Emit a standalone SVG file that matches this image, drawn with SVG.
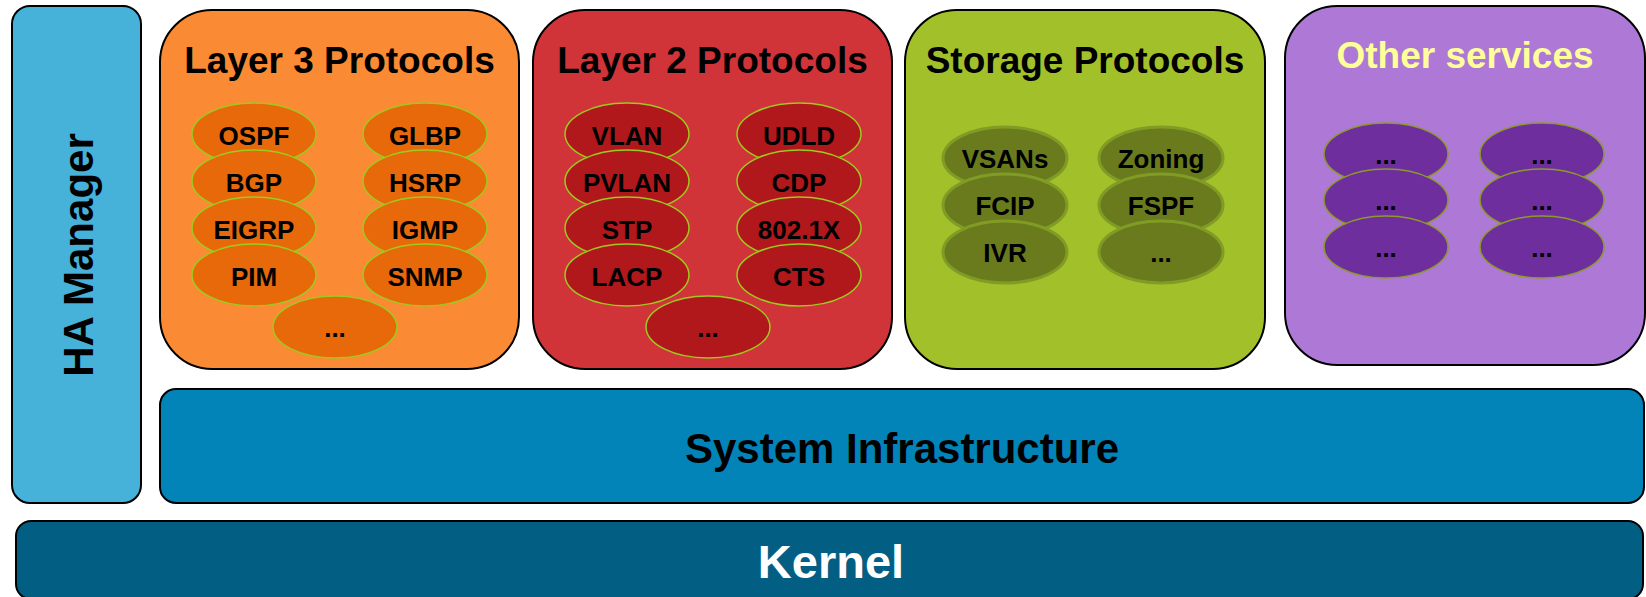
<svg xmlns="http://www.w3.org/2000/svg" width="1646" height="597" viewBox="0 0 1646 597">
  <style>
    text { font-family: "Liberation Sans", Arial, sans-serif; font-weight: bold; text-anchor: middle; }
    .box { stroke: #000; stroke-width: 2; }
    .title { font-size: 37px; fill: #000; }
    .item { font-size: 26px; fill: #000; }
    .l3 { fill: #E8690A; stroke: #9CCB1E; stroke-width: 1.5; }
    .l2 { fill: #B0181C; stroke: #9CCB1E; stroke-width: 1.5; }
    .st { fill: #6A7B1E; stroke: #819C25; stroke-width: 3; }
    .ot { fill: #6F2E9E; stroke: #8B9A2A; stroke-width: 1.5; }
  </style>

  <!-- HA Manager column -->
  <g id="ha-manager">
    <rect class="box" x="12" y="6" width="129" height="497" rx="18" fill="#46B1D9"/>
    <text x="0" y="0" font-size="42" fill="#000" transform="translate(93,255) rotate(-90)">HA Manager</text>
  </g>

  <!-- Layer 3 protocols -->
  <g id="layer3">
    <rect class="box" x="160" y="10" width="359" height="359" rx="52" fill="#FB8A34"/>
    <text class="title" x="339.5" y="73">Layer 3 Protocols</text>
    <ellipse class="l3" cx="254" cy="134" rx="62" ry="31"/><text class="item" x="254" y="145">OSPF</text>
    <ellipse class="l3" cx="254" cy="181" rx="62" ry="31"/><text class="item" x="254" y="192">BGP</text>
    <ellipse class="l3" cx="254" cy="228" rx="62" ry="31"/><text class="item" x="254" y="239">EIGRP</text>
    <ellipse class="l3" cx="254" cy="275" rx="62" ry="31"/><text class="item" x="254" y="286">PIM</text>
    <ellipse class="l3" cx="425" cy="134" rx="62" ry="31"/><text class="item" x="425" y="145">GLBP</text>
    <ellipse class="l3" cx="425" cy="181" rx="62" ry="31"/><text class="item" x="425" y="192">HSRP</text>
    <ellipse class="l3" cx="425" cy="228" rx="62" ry="31"/><text class="item" x="425" y="239">IGMP</text>
    <ellipse class="l3" cx="425" cy="275" rx="62" ry="31"/><text class="item" x="425" y="286">SNMP</text>
    <ellipse class="l3" cx="335" cy="327" rx="62" ry="31"/><text class="item" x="335" y="337">...</text>
  </g>

  <!-- Layer 2 protocols -->
  <g id="layer2">
    <rect class="box" x="533" y="10" width="359" height="359" rx="52" fill="#D13438"/>
    <text class="title" x="712.5" y="73">Layer 2 Protocols</text>
    <ellipse class="l2" cx="627" cy="134" rx="62" ry="31"/><text class="item" x="627" y="145">VLAN</text>
    <ellipse class="l2" cx="627" cy="181" rx="62" ry="31"/><text class="item" x="627" y="192">PVLAN</text>
    <ellipse class="l2" cx="627" cy="228" rx="62" ry="31"/><text class="item" x="627" y="239">STP</text>
    <ellipse class="l2" cx="627" cy="275" rx="62" ry="31"/><text class="item" x="627" y="286">LACP</text>
    <ellipse class="l2" cx="799" cy="134" rx="62" ry="31"/><text class="item" x="799" y="145">UDLD</text>
    <ellipse class="l2" cx="799" cy="181" rx="62" ry="31"/><text class="item" x="799" y="192">CDP</text>
    <ellipse class="l2" cx="799" cy="228" rx="62" ry="31"/><text class="item" x="799" y="239">802.1X</text>
    <ellipse class="l2" cx="799" cy="275" rx="62" ry="31"/><text class="item" x="799" y="286">CTS</text>
    <ellipse class="l2" cx="708" cy="327" rx="62" ry="31"/><text class="item" x="708" y="337">...</text>
  </g>

  <!-- Storage protocols -->
  <g id="storage">
    <rect class="box" x="905" y="10" width="360" height="359" rx="52" fill="#A2C02A"/>
    <text class="title" x="1085" y="73">Storage Protocols</text>
    <ellipse class="st" cx="1005" cy="158" rx="62" ry="31"/><text class="item" x="1005" y="168">VSANs</text>
    <ellipse class="st" cx="1005" cy="205" rx="62" ry="31"/><text class="item" x="1005" y="215">FCIP</text>
    <ellipse class="st" cx="1005" cy="252" rx="62" ry="31"/><text class="item" x="1005" y="262">IVR</text>
    <ellipse class="st" cx="1161" cy="158" rx="62" ry="31"/><text class="item" x="1161" y="168">Zoning</text>
    <ellipse class="st" cx="1161" cy="205" rx="62" ry="31"/><text class="item" x="1161" y="215">FSPF</text>
    <ellipse class="st" cx="1161" cy="252" rx="62" ry="31"/><text class="item" x="1161" y="262">...</text>
  </g>

  <!-- Other services -->
  <g id="other-services">
    <rect class="box" x="1285" y="6" width="360" height="359" rx="52" fill="#AE79D6"/>
    <text class="title" x="1465" y="68" style="fill:#FFFF99">Other services</text>
    <ellipse class="ot" cx="1386" cy="154" rx="62" ry="31"/><text class="item" x="1386" y="164">...</text>
    <ellipse class="ot" cx="1386" cy="200" rx="62" ry="31"/><text class="item" x="1386" y="210">...</text>
    <ellipse class="ot" cx="1386" cy="247" rx="62" ry="31"/><text class="item" x="1386" y="257">...</text>
    <ellipse class="ot" cx="1542" cy="154" rx="62" ry="31"/><text class="item" x="1542" y="164">...</text>
    <ellipse class="ot" cx="1542" cy="200" rx="62" ry="31"/><text class="item" x="1542" y="210">...</text>
    <ellipse class="ot" cx="1542" cy="247" rx="62" ry="31"/><text class="item" x="1542" y="257">...</text>
  </g>

  <!-- System infrastructure layer -->
  <g id="system-infrastructure">
    <rect class="box" x="160" y="389" width="1484" height="114" rx="16" fill="#0284B9"/>
    <text x="902" y="463" font-size="42" fill="#000">System Infrastructure</text>
  </g>

  <!-- Kernel layer -->
  <g id="kernel">
    <rect class="box" x="16" y="521" width="1627" height="78" rx="15" fill="#035E83"/>
    <text x="831" y="578" font-size="47" fill="#FFFFFF">Kernel</text>
  </g>
</svg>
